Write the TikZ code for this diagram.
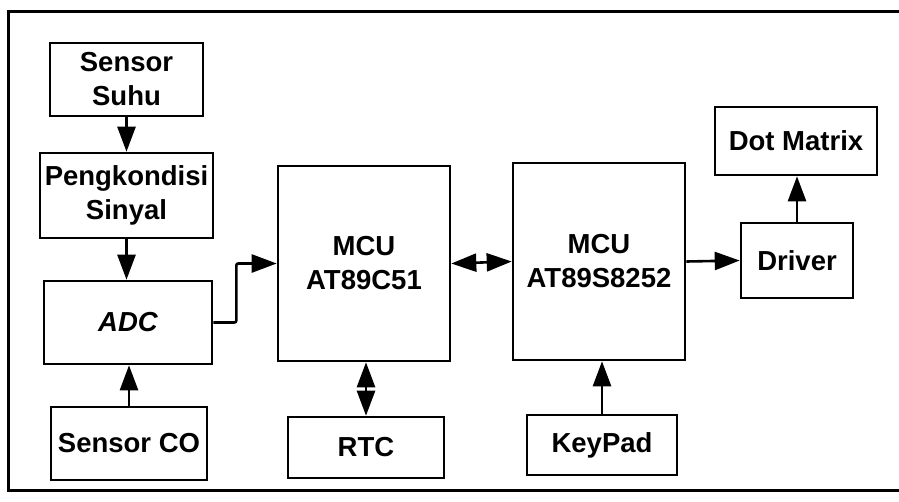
\documentclass[tikz,border=0pt]{standalone}
\usepackage{fontspec}
\setmainfont{Liberation Sans}
\usetikzlibrary{arrows.meta}
\begin{document}
\begin{tikzpicture}[x=1pt,y=-1pt,
    blok/.style={draw, line width=2.6pt, align=center, inner sep=2pt,
        font=\fontsize{27.5}{34}\selectfont\bfseries},
    pil/.style={line width=2.6pt, -{Triangle[length=25pt,width=18pt]}},
    pil2/.style={line width=2.6pt, {Triangle[length=25pt,width=18pt]}-{Triangle[length=25pt,width=18pt]}}]
            \useasboundingbox (0,0) rectangle (899,501);
            % bingkai luar
            \draw [line width=3pt] (899,11) -- (8,11) -- (8,490) -- (899,490);
            % blok-blok
            \node [blok, minimum width=153pt, minimum height=73pt] (suhu) at (126.5,79.5) {Sensor\\Suhu};
            \node [blok, minimum width=173pt, minimum height=85pt] (kondisi) at (126.5,195.5) {Pengkondisi\\Sinyal};
            \node [blok, minimum width=168pt, minimum height=83pt] (adc) at (128,322.5) {\itshape ADC};
            \node [blok, minimum width=156pt, minimum height=73pt] (sensco) at (129,443.5) {Sensor CO};
            \node [blok, minimum width=172pt, minimum height=195pt] (mcua) at (364,263.5) {MCU\\AT89C51};
            \node [blok, minimum width=172pt, minimum height=197pt] (mcub) at (599,261.5) {MCU\\AT89S8252};
            \node [blok, minimum width=156pt, minimum height=61pt] (rtc) at (366,447.5) {RTC};
            \node [blok, minimum width=150pt, minimum height=60pt] (keypad) at (602,445) {KeyPad};
            \node [blok, minimum width=112pt, minimum height=75pt] (driver) at (797,260.5) {Driver};
            \node [blok, minimum width=162pt, minimum height=68pt] (dotmat) at (796,141) {Dot Matrix};
            % panah
            \draw [pil] (suhu.south) -- (kondisi.north);
            \draw [pil] (kondisi.south) -- (kondisi.south |- adc.north);
            \draw [pil] (sensco.north) -- (sensco.north |- adc.south);
            \draw [pil, rounded corners=2pt] (adc.east) -- ++(23,0) |- (mcua.west);
            \draw [pil2] (mcua.east) -- (mcub.west);
            \draw [pil2] (rtc.north) -- (rtc.north |- mcua.south);
            \draw [pil] (keypad.north) -- (keypad.north |- mcub.south);
            \draw [pil] (mcub.east) -- (driver.west);
            \draw [pil] (driver.north) -- (driver.north |- dotmat.south);
        \end{tikzpicture}
\end{document}
